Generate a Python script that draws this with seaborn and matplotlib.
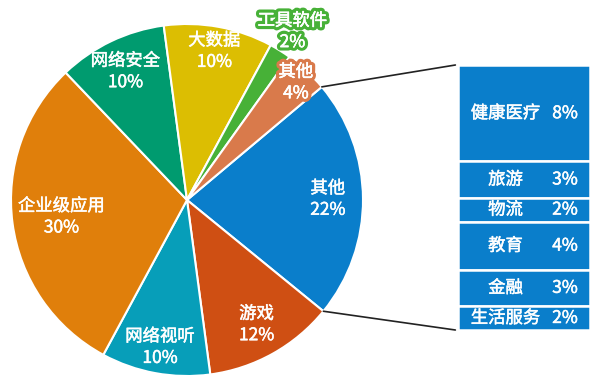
import matplotlib
matplotlib.use("Agg")
import matplotlib.pyplot as plt
import matplotlib.patheffects as pe
from matplotlib.patches import ConnectionPatch
import numpy as np
import seaborn as sns

# ---- data ----
pie_labels = ["其他", "游戏", "网络视听", "企业级应用", "网络安全", "大数据", "工具软件", "其他"]
pie_values = [22, 12, 10, 30, 10, 10, 2, 4]
pie_colors = ["#0A7ECB", "#CF4F13", "#079EB9", "#E07F0B", "#009B6F", "#DCBE02", "#47B137", "#D97A4B"]

bar_labels = ["健康医疗", "旅游", "物流", "教育", "金融", "生活服务"]
bar_values = [8, 3, 2, 4, 3, 2]
bar_color = "#0A7ECB"

# label placement (radius fraction per slice)
label_r = [0.80, 0.81, 0.85, 0.72, 0.81, 0.86, 1.13, 0.91]
outline = [None, None, None, None, None, None, "#47B137", "#D97A4B"]

sns.set_theme(style="white")
plt.rcParams["font.family"] = ["Noto Sans CJK SC", "DejaVu Sans"]

FS = 12.5
thick = pe.withStroke(linewidth=0.35, foreground="white")

fig = plt.figure(figsize=(6.0, 3.85), dpi=100)

ax = fig.add_axes([0, 0, 1, 1])
cx, cy, R = 187, 185, 176
wedges, _ = ax.pie(pie_values, colors=pie_colors, startangle=40, counterclock=False,
                   center=(cx, cy), radius=R, frame=True,
                   wedgeprops=dict(edgecolor="white", linewidth=1.5))
ax.set_xlim(0, 600)
ax.set_ylim(0, 385)
ax.set_aspect("equal")
ax.axis("off")

for w, lab, val, rf, oc in zip(wedges, pie_labels, pie_values, label_r, outline):
    ang = np.deg2rad((w.theta1 + w.theta2) / 2)
    x = cx + rf * R * np.cos(ang)
    y = cy + rf * R * np.sin(ang)
    effects = [thick]
    if oc:
        effects = [pe.withStroke(linewidth=5, foreground=oc), thick]
    ax.text(x, y, f"{lab}\n{val}%", ha="center", va="center", color="white",
            fontsize=FS, linespacing=1.25, path_effects=effects)

# stacked bar
bax = fig.add_axes([458 / 600, 55 / 385, 132 / 600, 265 / 385])
bottom = 0
for lab, val in zip(bar_labels, bar_values):
    bax.bar(0, val, bottom=bottom, width=1, color=bar_color, edgecolor="white", linewidth=1.8)
    mid = bottom + val / 2
    bax.text(-0.5 + 0.36, mid, lab, ha="center", va="center", color="white",
             fontsize=FS, path_effects=[thick])
    bax.text(-0.5 + 0.81, mid, f"{val}%", ha="center", va="center", color="white",
             fontsize=FS, path_effects=[thick])
    bottom += val
bax.set_xlim(-0.5, 0.5)
bax.set_ylim(sum(bar_values), 0)
bax.axis("off")

# connection lines
blue = wedges[0]
for th, yb in [(blue.theta2, 0), (blue.theta1, sum(bar_values))]:
    t = np.deg2rad(th)
    p = (cx + R * np.cos(t), cy + R * np.sin(t))
    con = ConnectionPatch(xyA=(-0.52, yb), coordsA=bax.transData,
                          xyB=p, coordsB=ax.transData, color="#222222", linewidth=1.2)
    fig.add_artist(con)

fig.savefig("out.png", dpi=100, facecolor="white")
